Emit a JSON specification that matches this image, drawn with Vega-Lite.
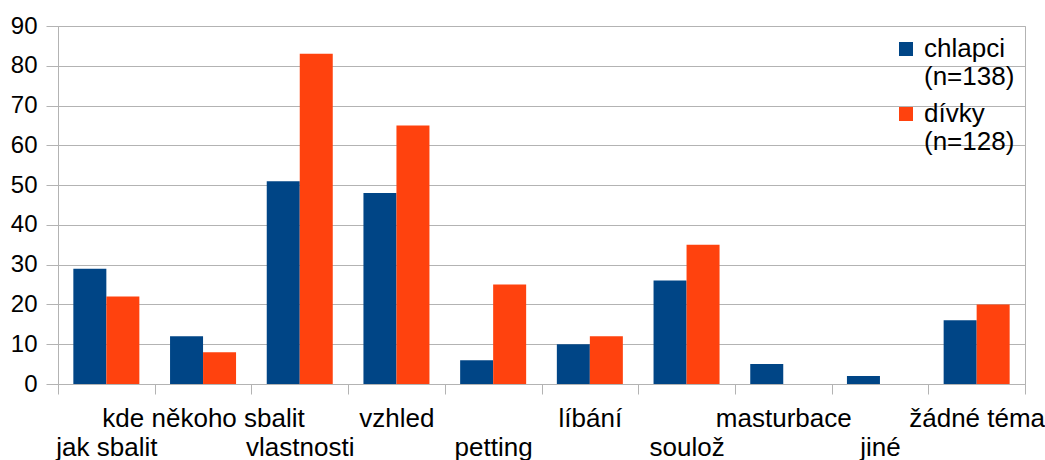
{
  "$schema": "https://vega.github.io/schema/vega-lite/v6.json",
  "width": 967,
  "height": 358,
  "autosize": "none",
  "padding": {"left": 58, "top": 26, "right": 20, "bottom": 76},
  "background": "white",
  "config": {
    "font": "Liberation Sans",
    "view": {"stroke": "#b3b3b3", "strokeWidth": 1}
  },
  "data": {
    "values": [
      {"kategorie": "jak sbalit", "skupina": "chlapci", "hodnota": 29},
      {"kategorie": "jak sbalit", "skupina": "dívky", "hodnota": 22},
      {"kategorie": "kde někoho sbalit", "skupina": "chlapci", "hodnota": 12},
      {"kategorie": "kde někoho sbalit", "skupina": "dívky", "hodnota": 8},
      {"kategorie": "vlastnosti", "skupina": "chlapci", "hodnota": 51},
      {"kategorie": "vlastnosti", "skupina": "dívky", "hodnota": 83},
      {"kategorie": "vzhled", "skupina": "chlapci", "hodnota": 48},
      {"kategorie": "vzhled", "skupina": "dívky", "hodnota": 65},
      {"kategorie": "petting", "skupina": "chlapci", "hodnota": 6},
      {"kategorie": "petting", "skupina": "dívky", "hodnota": 25},
      {"kategorie": "líbání", "skupina": "chlapci", "hodnota": 10},
      {"kategorie": "líbání", "skupina": "dívky", "hodnota": 12},
      {"kategorie": "soulož", "skupina": "chlapci", "hodnota": 26},
      {"kategorie": "soulož", "skupina": "dívky", "hodnota": 35},
      {"kategorie": "masturbace", "skupina": "chlapci", "hodnota": 5},
      {"kategorie": "masturbace", "skupina": "dívky", "hodnota": 0},
      {"kategorie": "jiné", "skupina": "chlapci", "hodnota": 2},
      {"kategorie": "jiné", "skupina": "dívky", "hodnota": 0},
      {"kategorie": "žádné téma", "skupina": "chlapci", "hodnota": 16},
      {"kategorie": "žádné téma", "skupina": "dívky", "hodnota": 20}
    ]
  },
  "mark": {"type": "bar"},
  "encoding": {
    "x": {
      "field": "kategorie",
      "type": "nominal",
      "sort": ["jak sbalit", "kde někoho sbalit", "vlastnosti", "vzhled", "petting", "líbání", "soulož", "masturbace", "jiné", "žádné téma"],
      "scale": {"paddingInner": 0, "paddingOuter": 0},
      "axis": {
        "title": null,
        "labelAngle": 0,
        "labelFontSize": 26,
        "labelColor": "#000000",
        "labelBaseline": "top",
        "labelLimit": 300,
        "labelOverlap": false,
        "labelPadding": {
          "condition": {"test": "indexof(['jak sbalit','vlastnosti','petting','soulož','jiné'], datum.value) >= 0", "value": 40},
          "value": 11
        },
        "tickBand": "extent",
        "tickSize": 10,
        "tickColor": "#b3b3b3",
        "domainColor": "#b3b3b3",
        "grid": false
      }
    },
    "xOffset": {"field": "skupina", "type": "nominal", "sort": ["chlapci", "dívky"], "scale": {"paddingInner": 0, "paddingOuter": 0.465}},
    "y": {
      "field": "hodnota",
      "type": "quantitative",
      "scale": {"domain": [0, 90], "nice": false},
      "axis": {
        "title": null,
        "values": [0, 10, 20, 30, 40, 50, 60, 70, 80, 90],
        "labelFontSize": 24,
        "labelColor": "#000000",
        "labelPadding": 9,
        "tickSize": 12,
        "tickColor": "#b3b3b3",
        "domainColor": "#b3b3b3",
        "gridColor": "#b3b3b3"
      }
    },
    "color": {
      "field": "skupina",
      "type": "nominal",
      "sort": ["chlapci", "dívky"],
      "scale": {"domain": ["chlapci", "dívky"], "range": ["#004586", "#ff420e"]},
      "legend": {
        "title": null,
        "orient": "none",
        "legendX": 835,
        "legendY": 10,
        "symbolType": "square",
        "symbolSize": 196,
        "symbolStrokeWidth": 0,
        "labelFontSize": 26,
        "labelColor": "#000000",
        "labelLimit": 200,
        "labelBaseline": "middle",
        "labelLineHeight": 27,
        "labelOffset": 5,
        "rowPadding": 11,
        "labelExpr": "datum.label == 'chlapci' ? ['chlapci', '(n=138)'] : ['dívky', '(n=128)']"
      }
    }
  }
}
